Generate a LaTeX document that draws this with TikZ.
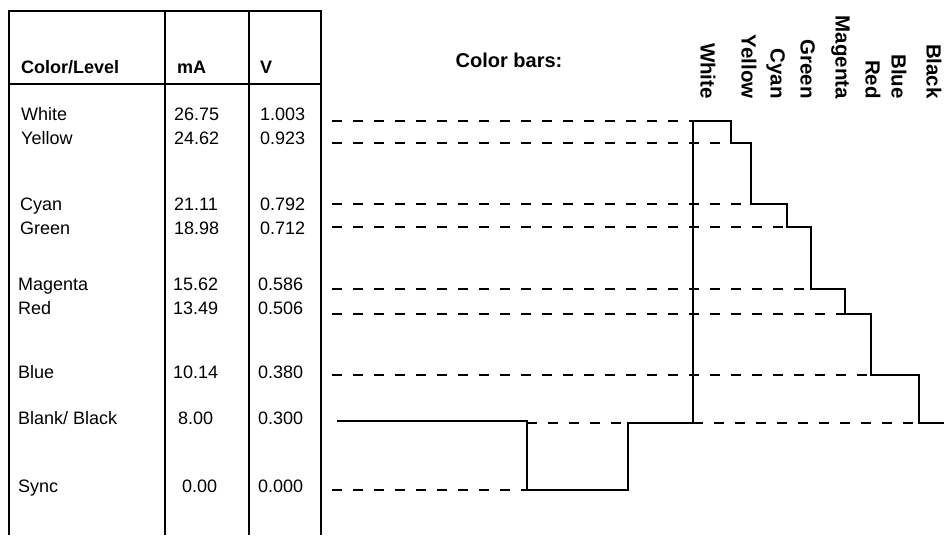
\documentclass[tikz,border=0pt]{standalone}
\usepackage{fontspec}
\setmainfont{Liberation Sans}
\begin{document}
\begin{tikzpicture}[x=1pt,y=-1pt,
  tab/.style={line width=2pt},
  lvl/.style={line width=2pt, dash pattern=on 10pt off 11pt},
  wave/.style={line width=2pt, line join=miter},
  cell/.style={anchor=base west, inner sep=0pt, font=\fontsize{18}{20}\selectfont},
  head/.style={anchor=base west, inner sep=0pt, font=\fontsize{18}{20}\selectfont\bfseries},
  title/.style={anchor=base, inner sep=0pt, font=\fontsize{20}{22}\selectfont\bfseries},
  barlbl/.style={rotate=-90, anchor=base east, inner sep=0pt, font=\fontsize{20.5}{22}\selectfont\bfseries}]
\useasboundingbox (0,0) rectangle (944,535);

% table frame
\draw[tab] (9,535) -- (9,11) -- (321,11) -- (321,535);
\draw[tab] (165,11) -- (165,535);
\draw[tab] (249,11) -- (249,535);
\draw[tab] (9,84) -- (321,84);

% headers
\node[head] (hcol) at (21,73.5) {Color/Level};
\node[head] (hma) at (177,73.5) {mA};
\node[head] (hv) at (260,73.5) {V};

% rows
\node[cell] (n1) at (21,120.5) {White};
\node[cell] (a1) at (174,120.5) {26.75};
\node[cell] (v1) at (260,120.5) {1.003};
\node[cell] (n2) at (21,144.5) {Yellow};
\node[cell] (a2) at (174,144.5) {24.62};
\node[cell] (v2) at (260,144.5) {0.923};
\node[cell] (n3) at (20,210.5) {Cyan};
\node[cell] (a3) at (174,210.5) {21.11};
\node[cell] (v3) at (260,210.5) {0.792};
\node[cell] (n4) at (20,234.5) {Green};
\node[cell] (a4) at (174,234.5) {18.98};
\node[cell] (v4) at (260,234.5) {0.712};
\node[cell] (n5) at (18,290.5) {Magenta};
\node[cell] (a5) at (173,290.5) {15.62};
\node[cell] (v5) at (258,290.5) {0.586};
\node[cell] (n6) at (18,314.5) {Red};
\node[cell] (a6) at (173,314.5) {13.49};
\node[cell] (v6) at (258,314.5) {0.506};
\node[cell] (n7) at (18,378.5) {Blue};
\node[cell] (a7) at (173,378.5) {10.14};
\node[cell] (v7) at (258,378.5) {0.380};
\node[cell] (n8) at (18,424.5) {Blank/ Black};
\node[cell] (a8) at (178,424.5) {8.00};
\node[cell] (v8) at (258,424.5) {0.300};
\node[cell] (n9) at (18,492.5) {Sync};
\node[cell] (a9) at (182,492.5) {0.00};
\node[cell] (v9) at (258,492.5) {0.000};

% title and bar labels
\node[title] (ttl) at (509,67) {Color bars:};
\node[barlbl] (lw) at (700.5,99) {White};
\node[barlbl] (ly) at (741.5,99) {Yellow};
\node[barlbl] (lc) at (770.5,99) {Cyan};
\node[barlbl] (lg) at (800.5,99) {Green};
\node[barlbl] (lm) at (835.5,99) {Magenta};
\node[barlbl] (lr) at (865.5,99) {Red};
\node[barlbl] (lb) at (891.5,99) {Blue};
\node[barlbl] (lk) at (926.5,99) {Black};

% waveform corners
\coordinate (s0) at (337,421);
\coordinate (s1) at (527,421);
\coordinate (s2) at (527,490);
\coordinate (s3) at (628,490);
\coordinate (s4) at (628,423);
\coordinate (w0) at (693,423);
\coordinate (w1) at (693,121);
\coordinate (w2) at (731,121);
\coordinate (y1) at (731,143);
\coordinate (y2) at (751,143);
\coordinate (c1) at (751,204);
\coordinate (c2) at (787,204);
\coordinate (g1) at (787,227);
\coordinate (g2) at (811,227);
\coordinate (m1) at (811,288.5);
\coordinate (m2) at (845,288.5);
\coordinate (r1) at (845,314);
\coordinate (r2) at (871,314);
\coordinate (b1) at (871,375);
\coordinate (b2) at (919,375);
\coordinate (k1) at (919,423);
\coordinate (k2) at (944,423);

% dashed reference levels
\coordinate (dw) at (332,121);
\coordinate (dy) at (332,143);
\coordinate (dc) at (332,204);
\coordinate (dg) at (332,227);
\coordinate (dm) at (332,288.5);
\coordinate (dr) at (332,314);
\coordinate (db) at (332,375);
\coordinate (ds) at (332,490);
\draw[lvl] (dw) -- (w1);
\draw[lvl] (dy) -- (y1);
\draw[lvl] (dc) -- (c1);
\draw[lvl] (dg) -- (g1);
\draw[lvl] (dm) -- (m1);
\draw[lvl] (dr) -- (r1);
\draw[lvl] (db) -- (b1);
\draw[lvl] (ds) -- (s2);
\draw[lvl] (s1 |- s4) -- (s4);
\draw[lvl] (w0) -- (k1);

% waveform
\draw[wave] (s0) -- (s1) -- (s2) -- (s3) -- (s4) -- (w0) -- (w1) -- (w2)
  -- (y1) -- (y2) -- (c1) -- (c2) -- (g1) -- (g2) -- (m1) -- (m2)
  -- (r1) -- (r2) -- (b1) -- (b2) -- (k1) -- (k2);
\end{tikzpicture}
\end{document}
